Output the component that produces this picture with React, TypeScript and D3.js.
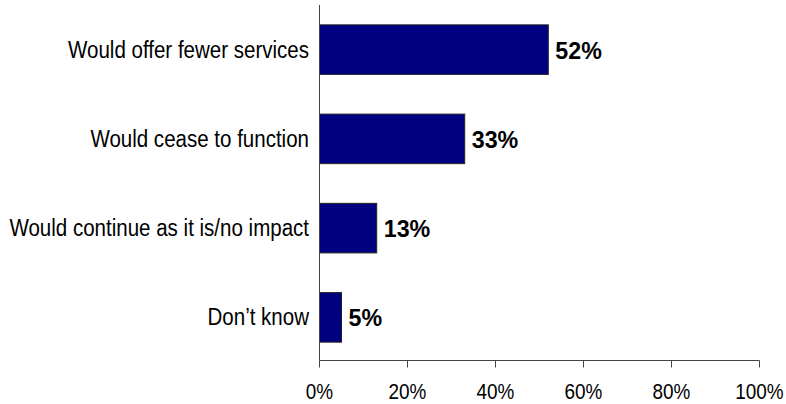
import React from "react";
import * as d3 from "d3";

const categories = [
  "Would offer fewer services",
  "Would cease to function",
  "Would continue as it is/no impact",
  "Don\u2019t know",
];
const values = [52, 33, 13, 5];
const tickValues = [0, 20, 40, 60, 80, 100];

const W = 786;
const H = 404;

export default function App() {
  const x = d3.scaleLinear().domain([0, 100]).range([319.5, 759.5]);
  const y = d3
    .scaleBand<string>()
    .domain(categories)
    .range([5, 362])
    .paddingInner(0.445)
    .paddingOuter(0.2225);
  const axisY = 360.5;
  const font = "Liberation Sans, Arial, Helvetica, sans-serif";
  return (
    <svg
      width={W}
      height={H}
      style={{ position: "absolute", left: 0, top: 0, background: "#fff" }}
      fontFamily={font}
    >
      {categories.map((c, i) => {
        const yc = (y(c) as number) + y.bandwidth() / 2;
        return (
          <g key={c}>
            <rect
              x={x(0)}
              y={y(c)}
              width={x(values[i]) - x(0)}
              height={y.bandwidth()}
              fill="#000080"
              stroke="#222"
              strokeWidth={1}
            />
            <text
              transform={`translate(309,${yc + 8}) scale(0.885,1)`}
              textAnchor="end"
              fontSize={23.2}
              fill="#000"
            >
              {c}
            </text>
            <text
              transform={`translate(${x(values[i]) + 7},${yc + 9}) scale(0.95,1)`}
              fontSize={24.5}
              fontWeight="bold"
              fill="#000"
            >
              {values[i]}%
            </text>
          </g>
        );
      })}
      <line x1={x(0)} x2={x(0)} y1={5} y2={axisY} stroke="#444" strokeWidth={1} />
      <line x1={x(0)} x2={x(100)} y1={axisY} y2={axisY} stroke="#444" strokeWidth={1} />
      {tickValues.map((t) => (
        <g key={t}>
          <line x1={x(t)} x2={x(t)} y1={axisY} y2={axisY + 7} stroke="#444" strokeWidth={1} />
          <text
            transform={`translate(${x(t)},398.5) scale(0.86,1)`}
            textAnchor="middle"
            fontSize={22}
            fill="#000"
          >
            {t}%
          </text>
        </g>
      ))}
    </svg>
  );
}
